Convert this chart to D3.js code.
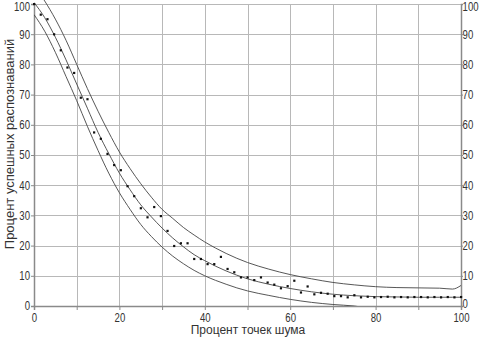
<!DOCTYPE html>
<html><head><meta charset="utf-8">
<script src="https://cdn.jsdelivr.net/npm/d3@7"></script>
<style>html,body{margin:0;padding:0;background:#fff;}svg{display:block;}</style>
</head><body>
<svg id="c" width="480" height="341"></svg>
<script>
const xTicks = [0,20,40,60,80,100];
const yTicks = [0,10,20,30,40,50,60,70,80,90,100];
const xTitle = "Процент точек шума";
const yTitle = "Процент успешных распознаваний";

const pointX = [0,1.56,3.13,4.69,6.25,7.81,9.38,10.94,12.5,14.06,15.63,17.19,18.75,20.31,21.88,23.44,25,26.56,28.13,29.69,31.25,32.81,34.38,35.94,37.5,39.06,40.63,42.19,43.75,45.31,46.88,48.44,50,51.56,53.13,54.69,56.25,57.81,59.38,60.94,62.5,64.06,65.63,67.19,68.75,70.31,71.88,73.44,75,76.56,78.13,79.69,81.25,82.81,84.38,85.94,87.5,89.06,90.63,92.19,93.75,95.31,96.88,98.44,100];
const pointY = [100,96.5,95.0,90.0,84.7,79.0,77.2,69.0,68.5,57.5,55.4,50.4,46.7,45.0,39.7,36.4,32.4,29.4,32.8,29.8,24.9,19.9,20.8,20.8,15.6,15.6,13.9,13.9,16.3,12.3,11.2,9.5,9.5,8.6,9.5,7.8,7.1,5.9,6.6,8.4,4.5,6.5,3.9,4.4,4.1,3.3,3.3,2.9,3.6,2.9,3.1,2.9,3.0,3.1,2.9,3.0,2.9,3.0,3.0,2.9,3.0,2.9,3.0,2.9,3.0];

const lineX =   [0,2.5,5,7.5,10,12.5,15,17.5,20,22.5,25,27.5,30,32.5,35,37.5,40,42.5,45,47.5,50,55,60,65,70,75,80,85,90,95,98,100];
const midY =    [100.5,95.5,89,81.5,73.5,65.5,57.5,50.5,44,38.5,33.5,29.5,25.8,22.5,19.6,17,15,13.2,11.6,10.2,9,7.2,5.8,4.7,3.9,3.4,3.1,3.0,2.9,2.9,2.9,2.9];
const upperY =  [106,101,95,88,80,72,64.5,57.5,51,45.5,40.5,36,32,29,26,23.5,21.2,19.2,17.4,15.8,14.4,12.2,10.4,9,7.8,7,6.4,6.1,6.0,5.9,5.6,6.8];
const lowerY =  [96.5,91,84,76,68,59.5,51.5,44,37.5,32,27,23,19.5,16.5,14,11.8,10,8.5,7.2,6,5,3.5,2.2,1.2,0.5,0,-1,-1,-1,-1,-1,-1];

const svg = d3.select("#c");
const x = d3.scaleLinear().domain([0,100]).range([34,461]);
const y = d3.scaleLinear().domain([0,100]).range([306,4]);
const font = "'Liberation Sans', Arial, sans-serif";

svg.append("defs").append("clipPath").attr("id","clip")
  .append("rect").attr("x",34).attr("y",0).attr("width",427).attr("height",306);

// grid
const gx = d3.range(10,101,10);
svg.append("g").selectAll("line").data(gx).join("line")
  .attr("x1",d=>Math.round(x(d))+0.5).attr("x2",d=>Math.round(x(d))+0.5)
  .attr("y1",y(100)).attr("y2",y(0)).attr("stroke","#b8b8b8").attr("stroke-width",1);
svg.append("g").selectAll("line").data(yTicks.filter(d=>d>0)).join("line")
  .attr("y1",d=>Math.round(y(d))+0.5).attr("y2",d=>Math.round(y(d))+0.5)
  .attr("x1",x(0)).attr("x2",x(100)).attr("stroke","#b8b8b8").attr("stroke-width",1);

// axes
const left = svg.append("g").attr("transform",`translate(${x(0)},0)`)
  .call(d3.axisLeft(y).tickValues(yTicks).tickSize(3).tickPadding(2));
const right = svg.append("g").attr("transform",`translate(${x(100)},0)`)
  .call(d3.axisRight(y).tickValues(yTicks).tickSize(2).tickPadding(0));
const bottom = svg.append("g").attr("transform",`translate(0,${y(0)})`)
  .call(d3.axisBottom(x).tickValues(d3.range(0,101,10)).tickSize(4).tickPadding(3)
    .tickFormat(d=>xTicks.includes(d)?d:""));
[left,right,bottom].forEach(g=>{
  g.selectAll("path").attr("stroke","#8a8a8a").attr("stroke-width",1.5);
  g.selectAll("line").attr("stroke","#8a8a8a");
  g.selectAll("text").attr("fill","#333").style("font-family",font).style("font-size","12px")
    .attr("transform","scale(0.8,1)");
});
left.selectAll(".tick").filter(d=>d===100).select("text").attr("dy","0.5em");
right.selectAll(".tick").filter(d=>d===100).select("text").attr("dy","0.5em");
right.selectAll(".tick").filter(d=>d===0).select("text").attr("dy","0.1em");

// lines
const line = d3.line().x((d,i)=>x(lineX[i])).y(d=>y(d)).curve(d3.curveMonotoneX);
const lg = svg.append("g").attr("clip-path","url(#clip)");
[upperY, midY, lowerY].forEach(arr=>{
  lg.append("path").datum(arr).attr("d",line).attr("fill","none")
    .attr("stroke","#444").attr("stroke-width",0.9);
});

// points
svg.append("g").selectAll("rect").data(pointY).join("rect")
  .attr("x",(d,i)=>x(pointX[i])-1).attr("y",d=>y(d)-1)
  .attr("width",2.2).attr("height",2.2).attr("fill","#111");

// titles
svg.append("text").attr("x",248).attr("y",334).attr("text-anchor","middle")
  .attr("fill","#333").style("font-family",font).style("font-size","12px").text(xTitle);
svg.append("text").attr("transform","translate(14,144) rotate(-90)").attr("text-anchor","middle")
  .attr("fill","#333").style("font-family",font).style("font-size","13px").text(yTitle);
</script>
</body></html>
